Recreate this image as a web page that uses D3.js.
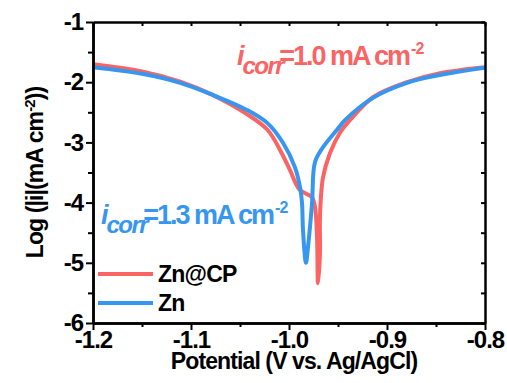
<!DOCTYPE html>
<meta charset="utf-8">
<style>
  body { margin: 0; background: #fff; }
  text { font-family: "Liberation Sans", Arial, sans-serif; font-weight: bold; }
</style>
<body>
<div id="chart"></div>
<script src="https://d3js.org/d3.v7.min.js"></script>
<script>

// data (potential in V, log|i|)
var zncpPotential = [-1.2, -1.15, -1.111, -1.078, -1.043, -1.022, -1.009, -0.999, -0.989, -0.9765, -0.9735, -0.9714, -0.9704, -0.9684, -0.9684, -0.9653, -0.9582, -0.948, -0.9378, -0.9143, -0.8796, -0.8459, -0.8];
var zncpLog       = [-1.70, -1.82, -1.99, -2.21, -2.53, -2.79, -3.13, -3.46, -3.79, -3.91, -4.07, -4.57, -5.34, -4.84, -4.24, -3.58, -3.18, -2.84, -2.63, -2.25, -2.00, -1.85, -1.75];

var znPotential = [-1.2, -1.15, -1.111, -1.078, -1.043, -1.022, -1.006, -0.994, -0.9888, -0.9867, -0.9857, -0.9827, -0.9806, -0.9765, -0.9735, -0.9653, -0.951, -0.9429, -0.9143, -0.8796, -0.8459, -0.8];
var znLog       = [-1.75, -1.86, -2.01, -2.21, -2.46, -2.68, -3.01, -3.41, -3.74, -4.01, -4.46, -5.00, -4.74, -4.01, -3.33, -3.08, -2.79, -2.63, -2.26, -2.01, -1.88, -1.76];

var xTicks = [-1.2, -1.1, -1.0, -0.9, -0.8];
var xMinor = [-1.15, -1.05, -0.95, -0.85];
var yTicks = [-1, -2, -3, -4, -5, -6];
var yMinor = [-1.5, -2.5, -3.5, -4.5, -5.5];

var red = "#fa6464", blue = "#3796f0";

var margin = {top: 22, right: 22, bottom: 60, left: 93},
    width = 507 - margin.left - margin.right,
    height = 383 - margin.top - margin.bottom;

var x = d3.scaleLinear().domain([-1.2, -0.8]).range([0, width]);
var y = d3.scaleLinear().domain([-6, -1]).range([height, 0]);

var svg = d3.select("#chart").append("svg")
    .attr("width", 507)
    .attr("height", 383)
  .append("g")
    .attr("transform", "translate(" + margin.left + "," + margin.top + ")");

svg.append("clipPath").attr("id", "clip")
  .append("rect").attr("width", width).attr("height", height);

var line = d3.line()
    .x(function(d) { return x(d[0]); })
    .y(function(d) { return y(d[1]); })
    .curve(d3.curveCatmullRom.alpha(0.5));

var series = [
  {name: "Zn@CP", color: red, pts: d3.zip(zncpPotential, zncpLog)},
  {name: "Zn", color: blue, pts: d3.zip(znPotential, znLog)}
];

svg.selectAll(".curve")
    .data(series)
  .enter().append("path")
    .attr("class", "curve")
    .attr("clip-path", "url(#clip)")
    .attr("d", function(d) { return line(d.pts); })
    .attr("fill", "none")
    .attr("stroke", function(d) { return d.color; })
    .attr("stroke-width", 4)
    .attr("stroke-linejoin", "round");

// axes
function styleAxis(g) {
  g.select(".domain").attr("stroke", "#000").attr("stroke-width", 2.5);
  g.selectAll(".tick line").attr("stroke", "#000").attr("stroke-width", 2);
  g.selectAll("text").attr("fill", "#000").style("font-size", "24px").style("letter-spacing", "-1px")
    .style("font-family", "'Liberation Sans', Arial, sans-serif").style("font-weight", "bold");
}

var fmtX = function(d) { return d3.format(".1f")(d).replace("−", "-"); };
var fmtY = function(d) { return String(d).replace("−", "-"); };

svg.append("g")
    .attr("transform", "translate(0," + height + ")")
    .call(d3.axisBottom(x).tickValues(xTicks).tickFormat(fmtX).tickSize(7).tickSizeOuter(0).tickPadding(1))
    .call(styleAxis);
svg.append("g")
    .attr("transform", "translate(0," + height + ")")
    .call(d3.axisBottom(x).tickValues(xMinor).tickFormat("").tickSize(4).tickSizeOuter(0))
    .call(styleAxis);

svg.append("g")
    .call(d3.axisLeft(y).tickValues(yTicks).tickFormat(fmtY).tickSize(7).tickSizeOuter(0).tickPadding(3))
    .call(styleAxis);
svg.append("g")
    .call(d3.axisLeft(y).tickValues(yMinor).tickFormat("").tickSize(5).tickSizeOuter(0))
    .call(styleAxis);

svg.append("g")
    .call(d3.axisTop(x).tickValues(xTicks.concat(xMinor)).tickFormat("").tickSize(-4).tickSizeOuter(0))
    .call(styleAxis);
svg.append("g")
    .attr("transform", "translate(" + width + ",0)")
    .call(d3.axisRight(y).tickValues(yTicks.concat(yMinor)).tickFormat("").tickSize(-4).tickSizeOuter(0))
    .call(styleAxis);

// axis titles
svg.append("text")
    .attr("x", width / 2 + 5)
    .attr("y", height + 46)
    .attr("text-anchor", "middle")
    .style("font-size", "23px")
    .style("letter-spacing", "-0.9px")
    .text("Potential (V vs. Ag/AgCl)");

var yt = svg.append("text")
    .attr("transform", "translate(-50," + (height / 2) + ") rotate(-90)")
    .attr("text-anchor", "middle")
    .style("font-size", "23px")
    .style("letter-spacing", "-0.9px");
yt.append("tspan").text("Log (|i|(mA cm");
yt.append("tspan").attr("dy", -8).style("font-size", "15px").text("-2");
yt.append("tspan").attr("dy", 8).text("))");

// i_corr annotations
function icorr(px, py, value, color) {
  var t = svg.append("text").attr("x", px).attr("y", py).attr("fill", color)
    .style("letter-spacing", "-2px");
  t.append("tspan").style("font-size", "27px").style("font-style", "italic").text("i");
  t.append("tspan").attr("dy", 9).style("font-size", "24px").style("font-style", "italic")
    .style("letter-spacing", "-1.5px").text("corr");
  t.append("tspan").attr("dy", -9).attr("dx", -4).style("font-size", "27px").text("=" + value + " mA cm");
  t.append("tspan").attr("dy", -11).attr("dx", 2).style("font-size", "16px").style("letter-spacing", "-1px").text("-2");
}
icorr(x(-1.0) - 52, y(-1.72), "1.0", red);
icorr(x(-1.2) + 8, y(-4.35), "1.3", blue);

// legend
var legend = svg.selectAll(".legend")
    .data(series)
  .enter().append("g")
    .attr("class", "legend")
    .attr("transform", function(d, i) { return "translate(5," + (252 + i * 29) + ")"; });
legend.append("line")
    .attr("x1", 0).attr("x2", 55)
    .attr("stroke", function(d) { return d.color; })
    .attr("stroke-width", 4);
legend.append("text")
    .attr("x", 60)
    .attr("y", 8)
    .style("font-size", "23px")
    .style("letter-spacing", "-0.8px")
    .text(function(d) { return d.name; });

</script>
</body>
